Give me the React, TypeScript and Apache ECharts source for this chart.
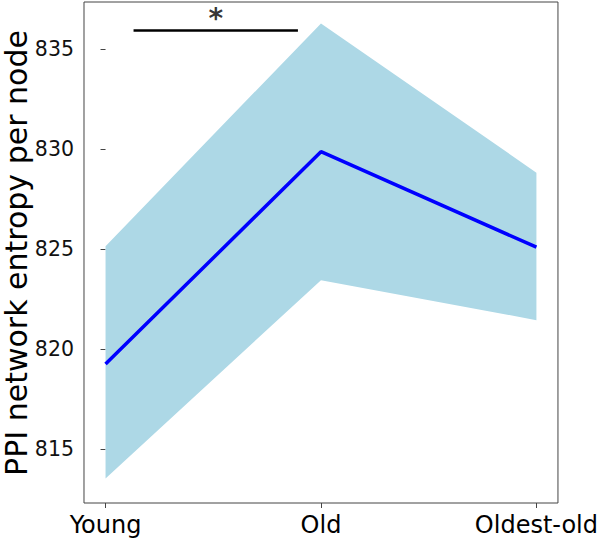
import React, { useEffect, useRef } from "react";
import * as echarts from "echarts";

const categories = ["Young", "Old", "Oldest-old"];
const meanValues = [819.25, 829.88, 825.1];
const upperValues = [825.15, 836.3, 828.83];
const lowerValues = [813.53, 823.45, 821.45];
const yTicks = [815, 820, 825, 830, 835];
const sigBar = { from: 0.13, to: 0.893, y: 835.95, label: "*" };

export default function App() {
  const ref = useRef<HTMLDivElement>(null);
  useEffect(() => {
    if (!ref.current) return;
    const chart = echarts.init(ref.current, null, { renderer: "svg" });
    const xs = categories.map((_, i) => i);
    const bandData = xs.map((x, i) => [x, lowerValues[i], upperValues[i]]);
    const font = "DejaVu Sans";
    chart.setOption({
      animation: false,
      grid: {
        left: 84,
        top: 2,
        right: 41,
        bottom: 40,
        show: true,
        borderColor: "#444",
        borderWidth: 1,
        backgroundColor: "transparent",
      },
      xAxis: {
        type: "value",
        min: -0.1,
        max: 2.1,
        splitLine: { show: false },
        axisLine: { show: false },
        axisTick: {
          show: true,
          length: 5,
          customValues: xs,
          lineStyle: { color: "#444" },
        },
        axisLabel: {
          customValues: xs,
          formatter: (v: number) => categories[Math.round(v)] ?? "",
          color: "#000",
          fontSize: 24,
          fontFamily: font,
          margin: 10,
        },
      },
      yAxis: {
        type: "value",
        min: 812.3,
        max: 837.37,
        splitLine: { show: false },
        axisLine: { show: false },
        axisTick: {
          show: true,
          length: 5,
          customValues: yTicks,
          lineStyle: { color: "#444" },
        },
        axisLabel: {
          customValues: yTicks,
          formatter: (v: number) => String(v),
          color: "#111",
          fontSize: 20.5,
          fontFamily: font,
          margin: 10,
        },
      },
      graphic: [
        {
          type: "text",
          x: 16,
          y: 253,
          rotation: Math.PI / 2,
          style: {
            text: "PPI network entropy per node",
            fontSize: 30,
            lineHeight: 30,
            fontFamily: font,
            fill: "#000",
            align: "center",
            verticalAlign: "middle",
          },
        },
      ],
      series: [
        {
          type: "custom",
          data: bandData,
          renderItem: (params: any, api: any) => {
            if (params.dataIndex !== 0) return null;
            const top = bandData.map((d) => api.coord([d[0], d[2]]));
            const bottom = bandData
              .slice()
              .reverse()
              .map((d) => api.coord([d[0], d[1]]));
            return {
              type: "polygon",
              shape: { points: top.concat(bottom) },
              style: { fill: "#ADD8E6" },
            };
          },
          encode: { x: 0, y: [1, 2] },
          z: 1,
        },
        {
          type: "line",
          data: xs.map((x, i) => [x, meanValues[i]]),
          symbol: "none",
          lineStyle: { color: "#0000ff", width: 3.5 },
          z: 3,
        },
        {
          type: "line",
          data: [
            [sigBar.from, sigBar.y],
            [sigBar.to, sigBar.y],
          ],
          symbol: "none",
          lineStyle: { color: "#000", width: 2.5 },
          z: 4,
        },
        {
          type: "scatter",
          data: [[(sigBar.from + sigBar.to) / 2, sigBar.y]],
          symbolSize: 0,
          label: {
            show: true,
            formatter: sigBar.label,
            position: "top",
            distance: -2,
            fontSize: 28,
            fontWeight: "bold",
            fontFamily: font,
            color: "#000",
          },
          z: 5,
        },
      ],
    });
    return () => chart.dispose();
  }, []);
  return <div ref={ref} style={{ width: 601, height: 543, position: "absolute", left: 0, top: 0 }} />;
}
